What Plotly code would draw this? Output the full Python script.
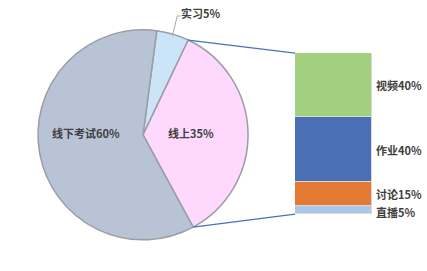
import math
import plotly.graph_objects as go

# Pie data
pie_labels = ["实习", "线上", "线下考试"]
pie_values = [5, 35, 60]
pie_colors = ["#CCE4F8", "#FFD8FE", "#B8C3D5"]

# Breakdown of 线上
bar_labels = ["直播", "讨论", "作业", "视频"]
bar_values = [5, 15, 40, 40]
bar_colors = ["#A9C8EA", "#E47A34", "#4A6FB5", "#A2D07E"]

W, H = 427, 271
pie_rot = 7.5
pie_dom_x = [0.089, 0.581]
pie_dom_y = [0.115, 0.890]
bar_dom_x = [0.691, 0.871]
bar_dom_y = [0.210, 0.804]

fig = go.Figure()
fig.add_trace(go.Pie(
    labels=pie_labels, values=pie_values, sort=False, direction="clockwise",
    rotation=pie_rot, textinfo="none", hoverinfo="label+percent",
    marker=dict(colors=pie_colors, line=dict(color="#9A9EA4", width=1.5)),
    domain=dict(x=pie_dom_x, y=pie_dom_y), showlegend=False,
))

for lab, val, col in zip(bar_labels, bar_values, bar_colors):
    fig.add_trace(go.Bar(
        x=["线上"], y=[val], name=lab, marker=dict(color=col, line=dict(color="#D9D9D9", width=1)),
        width=1, showlegend=False, xaxis="x", yaxis="y",
    ))

font = dict(family="Noto Sans CJK SC", size=11, color="#404040")

# pie geometry in pixels
cx = (pie_dom_x[0] + pie_dom_x[1]) / 2 * W
cy = (1 - (pie_dom_y[0] + pie_dom_y[1]) / 2) * H
r = min((pie_dom_x[1] - pie_dom_x[0]) * W, (pie_dom_y[1] - pie_dom_y[0]) * H) / 2
tot = sum(pie_values)

def pt(angle_deg, rr):
    a = math.radians(angle_deg)
    return cx + rr * math.sin(a), cy - rr * math.cos(a)

starts = []
acc = pie_rot
for v in pie_values:
    starts.append(acc)
    acc += v / tot * 360

def to_paper(px, py):
    return px / W, 1 - py / H

annotations = []
# inside label positions (angle clockwise from top, fraction of radius)
inside_pos = {1: (88, 0.46), 2: (272, 0.54)}
for i, (ang, fr) in inside_pos.items():
    px, py = pt(ang, r * fr)
    x, y = to_paper(px, py)
    annotations.append(dict(x=x, y=y, xref="paper", yref="paper", showarrow=False,
                            xanchor="center", yanchor="middle",
                            text=f"<b>{pie_labels[i]}{pie_values[i]}%</b>", font=font))
# 实习 label with leader line
mid0 = starts[0] + pie_values[0] / tot * 180
ex, ey = pt(mid0, r * 0.98)
lx, ly = ex + 5, 13
annotations.append(dict(x=(lx + 2) / W, y=1 - ly / H, xref="paper", yref="paper", showarrow=False,
                        xanchor="left", yanchor="middle",
                        text=f"<b>{pie_labels[0]}{pie_values[0]}%</b>", font=font))

shapes = [
    dict(type="path", xref="paper", yref="paper",
         path=f"M {ex/W},{1-ey/H} L {lx/W},{1-(ly+3)/H} L {(lx+3)/W},{1-(ly+3)/H}",
         line=dict(color="#A6A6A6", width=1)),
]
# connector lines from 线上 slice edges to bar
p_top = pt(starts[1], r)
p_bot = pt(starts[1] + pie_values[1] / tot * 360, r)
shapes.append(dict(type="line", xref="paper", yref="paper",
                   x0=p_top[0] / W, y0=1 - p_top[1] / H, x1=bar_dom_x[0], y1=bar_dom_y[1],
                   line=dict(color="#4472C4", width=1.2)))
shapes.append(dict(type="line", xref="paper", yref="paper",
                   x0=p_bot[0] / W, y0=1 - p_bot[1] / H, x1=bar_dom_x[0], y1=bar_dom_y[0],
                   line=dict(color="#4472C4", width=1.2)))

# bar labels (paper coords, y from stacked value)
cum = 0
for lab, val in zip(bar_labels, bar_values):
    ymid = cum + val / 2
    cum += val
    if lab == "直播":
        ymid -= 1.5
    yp = bar_dom_y[0] + (bar_dom_y[1] - bar_dom_y[0]) * ymid / 100
    annotations.append(dict(x=bar_dom_x[1] + 2 / W, y=yp, xref="paper", yref="paper",
                            xanchor="left", yanchor="middle", showarrow=False,
                            text=f"<b>{lab}{val}%</b>", font=font))

fig.update_layout(
    width=W, height=H, margin=dict(l=0, r=0, t=0, b=0),
    paper_bgcolor="white", plot_bgcolor="rgba(0,0,0,0)",
    barmode="stack", bargap=0,
    xaxis=dict(domain=bar_dom_x, range=[-0.5, 0.5], visible=False, type="category"),
    yaxis=dict(domain=bar_dom_y, range=[0, 100], visible=False),
    annotations=annotations, shapes=shapes,
)

fig.write_html("out.html")
